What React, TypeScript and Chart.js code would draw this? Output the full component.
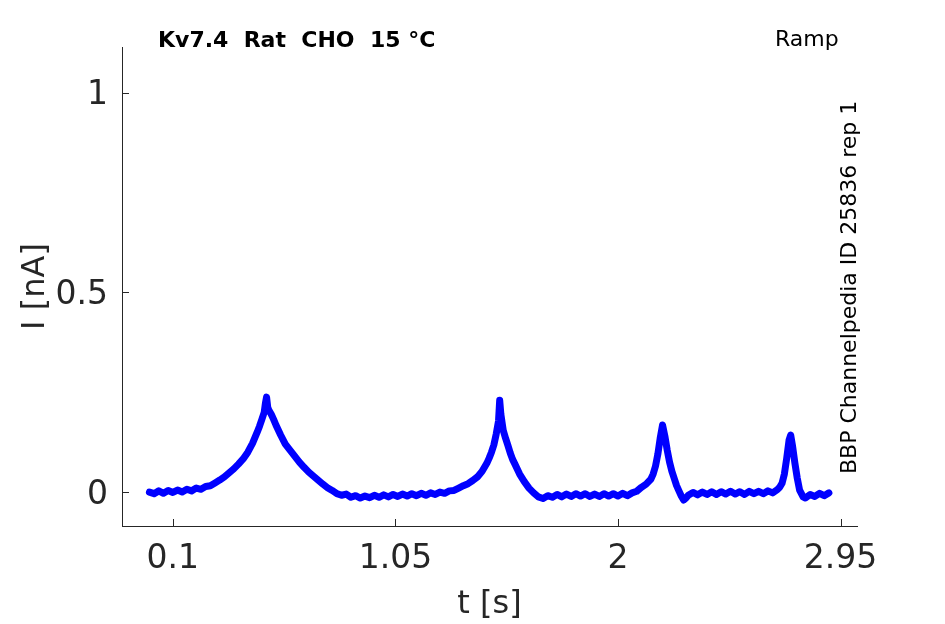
/* eslint-disable @typescript-eslint/no-explicit-any */
import React, { useEffect, useRef } from "react";
import { Chart, registerables } from "chart.js";

Chart.register(...registerables);

// time [s] and current [nA]
const timeS = [
  0.0, 0.02, 0.04, 0.06, 0.08, 0.1, 0.12, 0.14, 0.16, 0.18,
  0.2, 0.22, 0.24, 0.26, 0.28, 0.3, 0.32, 0.34, 0.36, 0.38,
  0.4, 0.42, 0.44, 0.46, 0.47, 0.48, 0.49, 0.495, 0.5, 0.505,
  0.51, 0.52, 0.53, 0.54, 0.56, 0.58, 0.6, 0.62, 0.64, 0.66,
  0.68, 0.7, 0.72, 0.74, 0.76, 0.78, 0.8, 0.82, 0.84, 0.86,
  0.88, 0.9, 0.92, 0.94, 0.96, 0.98, 1.0, 1.02, 1.04, 1.06,
  1.08, 1.1, 1.12, 1.14, 1.16, 1.18, 1.2, 1.22, 1.24, 1.26,
  1.28, 1.3, 1.32, 1.34, 1.36, 1.38, 1.4, 1.42, 1.44, 1.45,
  1.46, 1.47, 1.48, 1.49, 1.495, 1.5, 1.51, 1.52, 1.53, 1.54,
  1.55, 1.56, 1.58, 1.6, 1.62, 1.64, 1.66, 1.68, 1.7, 1.72,
  1.74, 1.76, 1.78, 1.8, 1.82, 1.84, 1.86, 1.88, 1.9, 1.92,
  1.94, 1.96, 1.98, 2.0, 2.02, 2.04, 2.06, 2.08, 2.1, 2.12,
  2.14, 2.15, 2.16, 2.17, 2.18, 2.19, 2.2, 2.21, 2.22, 2.23,
  2.24, 2.25, 2.26, 2.27, 2.28, 2.29, 2.3, 2.32, 2.34, 2.36,
  2.38, 2.4, 2.42, 2.44, 2.46, 2.48, 2.5, 2.52, 2.54, 2.56,
  2.58, 2.6, 2.62, 2.64, 2.66, 2.68, 2.69, 2.7, 2.71, 2.72,
  2.73, 2.737, 2.745, 2.755, 2.765, 2.775, 2.79, 2.8, 2.82, 2.84,
  2.86, 2.88, 2.9,
];

const currentNA = [
  0.0, -0.004, 0.003, -0.003, 0.004, -0.001, 0.005, 0.0, 0.007, 0.003,
  0.01, 0.007, 0.014, 0.016, 0.023, 0.03, 0.038, 0.048, 0.058, 0.07,
  0.083, 0.1, 0.122, 0.15, 0.165, 0.182, 0.2, 0.222, 0.238, 0.212,
  0.205, 0.195, 0.182, 0.168, 0.143, 0.12, 0.105, 0.09, 0.075, 0.062,
  0.05, 0.04, 0.03, 0.02, 0.011, 0.004, -0.004, -0.008, -0.005, -0.013,
  -0.009, -0.015, -0.01, -0.014, -0.008, -0.013, -0.007, -0.012, -0.006, -0.011,
  -0.005, -0.01, -0.004, -0.009, -0.003, -0.008, -0.002, -0.006, 0.0, -0.003,
  0.003, 0.004, 0.01, 0.016, 0.021, 0.029, 0.038, 0.052, 0.072, 0.085,
  0.1, 0.118, 0.145, 0.178, 0.23, 0.195, 0.155, 0.135, 0.117, 0.098,
  0.082, 0.07, 0.045, 0.026, 0.01, -0.002, -0.012, -0.016, -0.009, -0.013,
  -0.006, -0.012, -0.005, -0.011, -0.004, -0.01, -0.004, -0.011, -0.005, -0.011,
  -0.004, -0.01, -0.004, -0.01, -0.003, -0.009, -0.002, 0.002, 0.012, 0.02,
  0.032, 0.045, 0.065, 0.095, 0.135, 0.168, 0.14, 0.105, 0.075, 0.052,
  0.034, 0.016, 0.003, -0.01, -0.02, -0.015, -0.008, -0.001, -0.007, 0.0,
  -0.006, 0.001, -0.006, 0.001, -0.005, 0.002, -0.005, 0.001, -0.006, 0.002,
  -0.004, 0.002, -0.004, 0.003, -0.002, 0.006, 0.012, 0.022, 0.045, 0.085,
  0.13, 0.143, 0.115, 0.072, 0.035, 0.005, -0.012, -0.015, -0.006, -0.011,
  -0.003, -0.009, -0.002,
];

const xTicks = [0.1, 1.05, 2, 2.95];
const yTicks = [0, 0.5, 1];

const titleText = "Kv7.4  Rat  CHO  15 °C";
const protocolText = "Ramp";
const sourceText = "BBP Channelpedia ID 25836 rep 1";

const AXIS = "#262626";
const FONT = "'DejaVu Sans', sans-serif";

const annotations = {
  id: "annotations",
  afterDraw(chart: any) {
    const { ctx, chartArea, scales } = chart;
    ctx.save();
    // inward tick marks
    ctx.strokeStyle = AXIS;
    ctx.lineWidth = 1;
    ctx.beginPath();
    xTicks.forEach((v) => {
      const px = Math.round(scales.x.getPixelForValue(v)) + 0.5;
      ctx.moveTo(px, chartArea.bottom);
      ctx.lineTo(px, chartArea.bottom - 7);
    });
    yTicks.forEach((v) => {
      const py = Math.round(scales.y.getPixelForValue(v)) + 0.5;
      ctx.moveTo(chartArea.left, py);
      ctx.lineTo(chartArea.left + 7, py);
    });
    ctx.stroke();

    ctx.fillStyle = "#000";
    ctx.textAlign = "left";
    ctx.textBaseline = "alphabetic";
    ctx.font = `bold 22px ${FONT}`;
    ctx.fillText(titleText, 158, 47);
    ctx.font = `22px ${FONT}`;
    ctx.fillText(protocolText, 775, 46);
    ctx.translate(856, 474);
    ctx.rotate(-Math.PI / 2);
    ctx.fillText(sourceText, 0, 0);
    ctx.restore();
  },
};

const App = () => {
  const canvasRef = useRef<HTMLCanvasElement | null>(null);

  useEffect(() => {
    if (!canvasRef.current) return;

    const chart = new Chart(canvasRef.current, {
      type: "line",
      data: {
        datasets: [
          {
            data: timeS.map((t, i) => ({ x: t, y: currentNA[i] })),
            borderColor: "#0000ff",
            borderWidth: 7,
            borderJoinStyle: "round",
            borderCapStyle: "round",
            pointRadius: 0,
            tension: 0,
          },
        ],
      },
      options: {
        animation: false,
        responsive: true,
        maintainAspectRatio: false,
        layout: { padding: { top: 47, right: 88, left: 0, bottom: 0 } },
        plugins: {
          legend: { display: false },
          tooltip: { enabled: false },
        },
        scales: {
          x: {
            type: "linear",
            min: -0.117,
            max: 3.02,
            afterBuildTicks: (scale: any) => {
              scale.ticks = xTicks.map((v) => ({ value: v }));
            },
            afterFit: (scale: any) => {
              scale.height = 98;
            },
            ticks: {
              padding: 14,
              color: AXIS,
              font: { size: 33, family: FONT },
              maxRotation: 0,
              callback: (v: any) => String(v),
            },
            grid: { display: false, drawTicks: false },
            border: { display: true, color: AXIS, width: 1 },
            title: {
              display: true,
              text: "t [s]",
              color: AXIS,
              font: { size: 32, family: FONT },
              padding: { top: 0, bottom: 0 },
            },
          },
          y: {
            type: "linear",
            min: -0.085,
            max: 1.115,
            afterBuildTicks: (scale: any) => {
              scale.ticks = yTicks.map((v) => ({ value: v }));
            },
            afterFit: (scale: any) => {
              scale.width = 122;
            },
            ticks: {
              padding: 14,
              labelOffset: 3,
              color: AXIS,
              font: { size: 33, family: FONT },
              callback: (v: any) => String(v),
            },
            grid: { display: false, drawTicks: false },
            border: { display: true, color: AXIS, width: 1 },
            title: {
              display: true,
              text: "I [nA]",
              color: AXIS,
              font: { size: 32, family: FONT },
              padding: { top: 16, bottom: 0 },
            },
          },
        },
      },
      plugins: [annotations],
    });

    return () => {
      chart.destroy();
    };
  }, []);

  return (
    <div style={{ position: "absolute", left: 0, top: 0, width: 945, height: 624, background: "#fff" }}>
      <canvas ref={canvasRef}></canvas>
    </div>
  );
};

export default App;
